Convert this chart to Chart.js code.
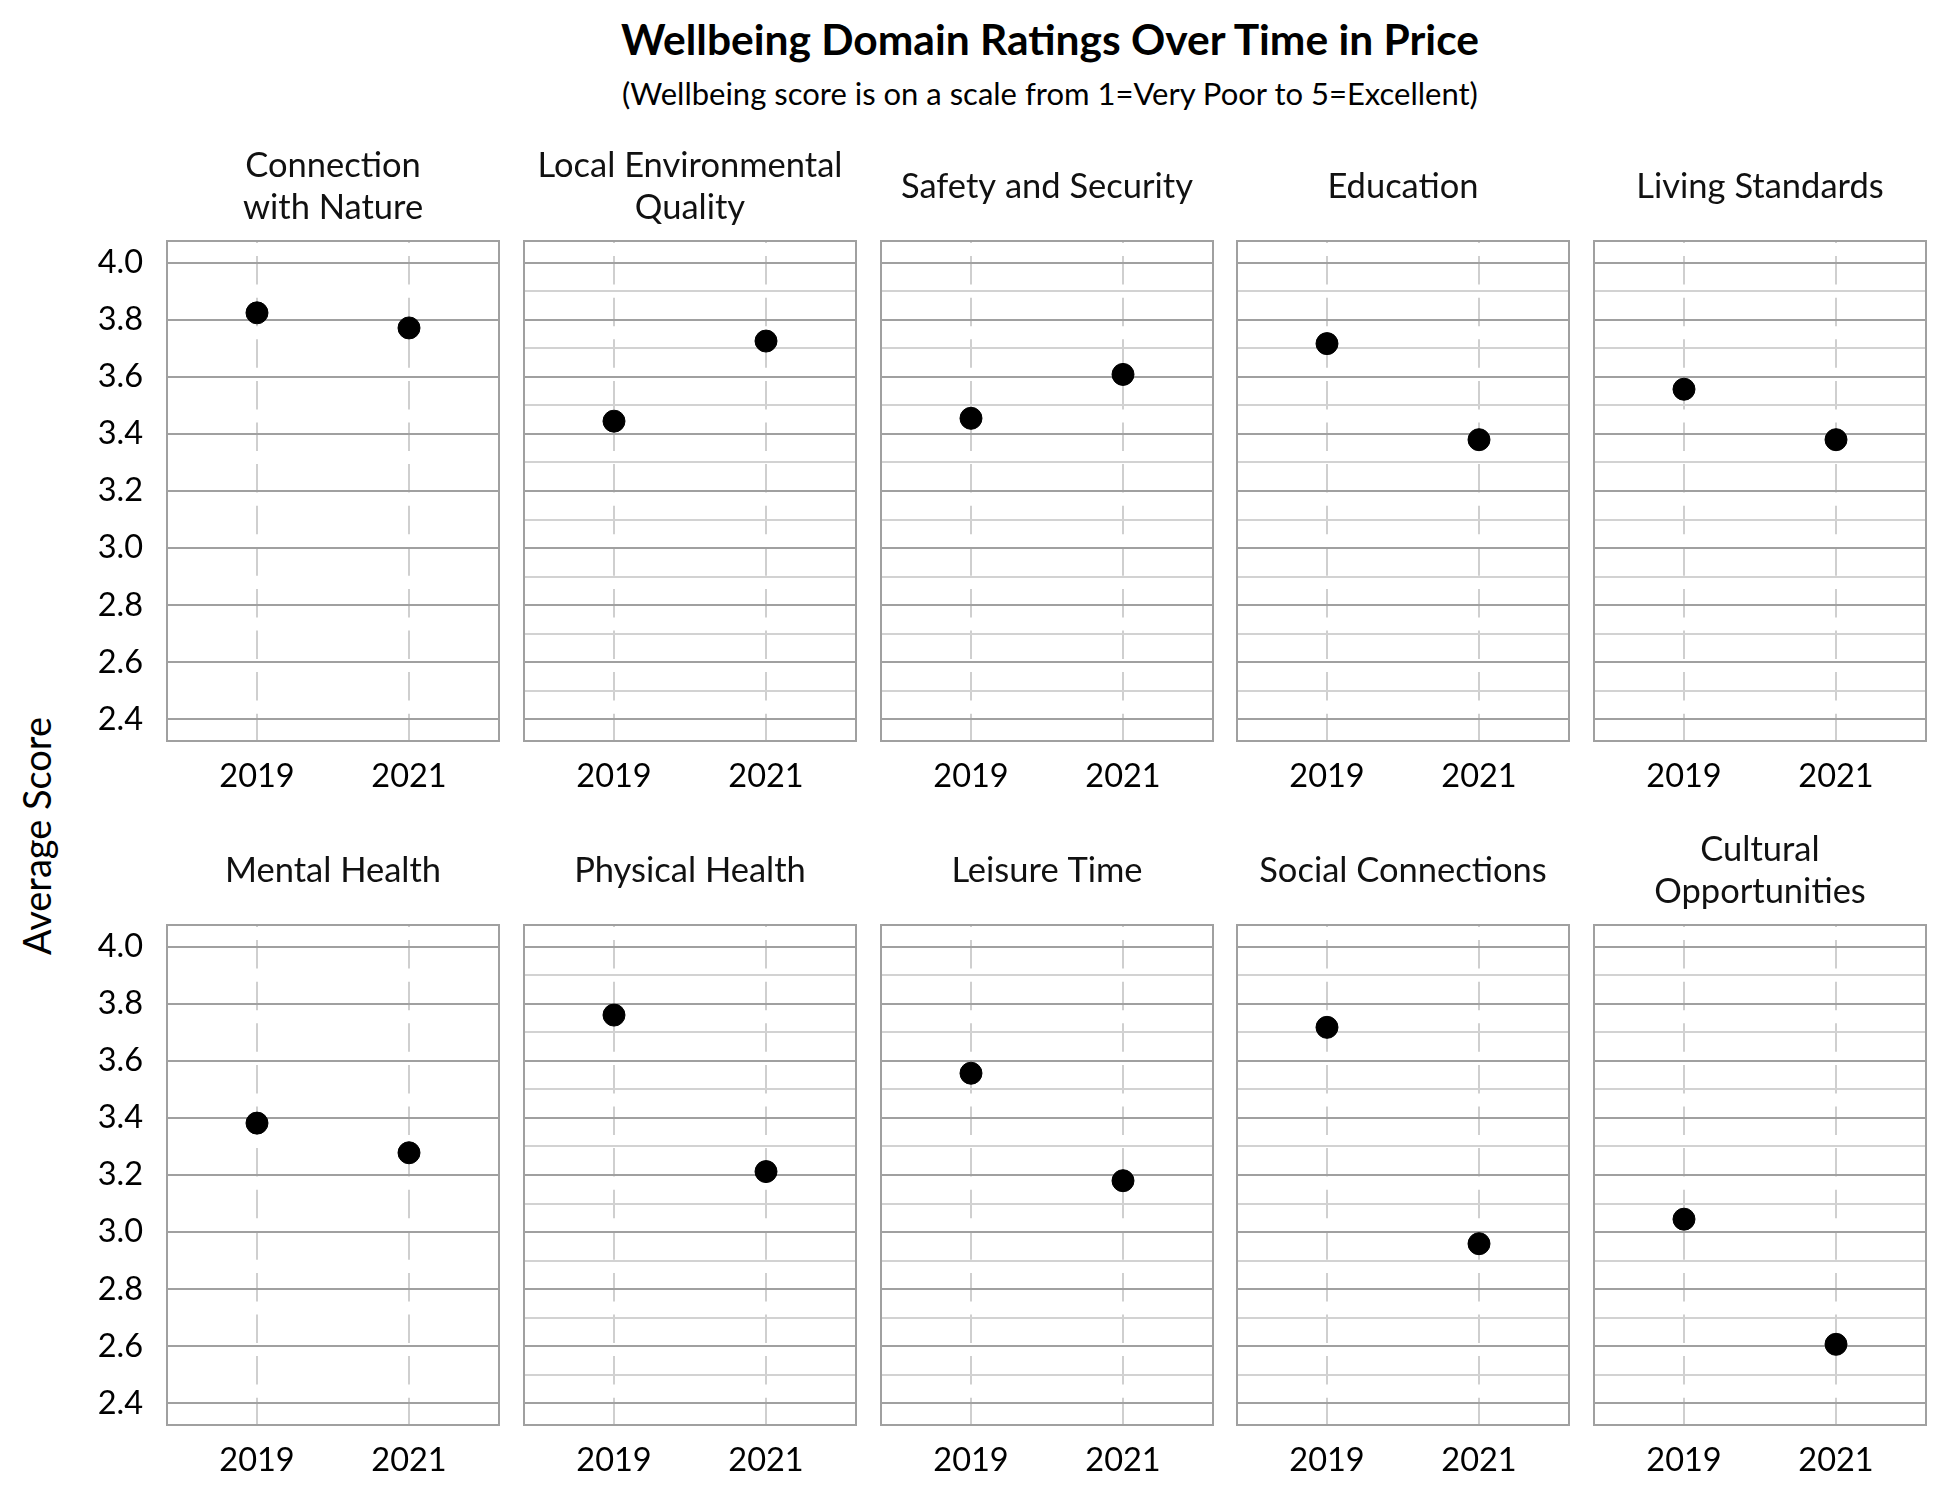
<!DOCTYPE html>
<html>
<head>
<meta charset="utf-8">
<script src="https://cdn.jsdelivr.net/npm/chart.js@4"></script>
<style>
  body { margin: 0; background: #fff; }
  #wrap { position: relative; width: 1950px; height: 1500px; background: #fff; font-family: Lato, "Noto Sans", sans-serif; color: #000; }
  #wrap canvas { position: absolute; }
  .title { position: absolute; left: 0; width: 2100px; height: 50px; line-height: 50px; text-align: center; white-space: nowrap; }
  #mainTitle { top: 14px; font-size: 42.5px; font-weight: bold; }
  #subTitle { top: 68px; font-size: 31px; }
  #yTitle { position: absolute; left: 36px; top: 836px; font-size: 38px; white-space: nowrap;
            transform: translate(-50%, -50%) rotate(-90deg); }
</style>
</head>
<body>
<div id="wrap">
  <div class="title" id="mainTitle">Wellbeing Domain Ratings Over Time in Price</div>
  <div class="title" id="subTitle">(Wellbeing score is on a scale from 1=Very Poor to 5=Excellent)</div>
  <div id="yTitle">Average Score</div>
</div>
<script>
const domains = [
  ["Connection", "with Nature"],
  ["Local Environmental", "Quality"],
  ["Safety and Security"],
  ["Education"],
  ["Living Standards"],
  ["Mental Health"],
  ["Physical Health"],
  ["Leisure Time"],
  ["Social Connections"],
  ["Cultural", "Opportunities"]
];
const years = [2019, 2021];
const score2019 = [3.825, 3.445, 3.455, 3.717, 3.557, 3.382, 3.761, 3.557, 3.718, 3.045];
const score2021 = [3.772, 3.726, 3.609, 3.380, 3.380, 3.278, 3.212, 3.180, 2.959, 2.606];

const yMin = 2.323, yMax = 4.077;
const xMin = 2017.816, xMax = 2022.184;

// panel box positions
const panelW = 332, panelH = 500;
const colLeft = c => 167 + c * 356.75;
const rowTop = r => 241 + r * 684;
const titleH = 120, xAxisH = 70;

// title centre in the block sits 66px below its top
const titleFont = 34.5, titleLine = 41.6;

const boxPlugin = {
  id: "panelBox",
  beforeDatasetsDraw(chart) {
    const a = chart.chartArea, g = chart.ctx;
    g.save();
    g.strokeStyle = "#a0a0a0";
    g.lineWidth = 2;
    g.strokeRect(a.left, a.top, a.right - a.left, a.bottom - a.top);
    g.restore();
  }
};

const wrap = document.getElementById("wrap");

domains.forEach((name, i) => {
  const c = i % 5, r = Math.floor(i / 5);
  // same space both sides so the panel title stays centred over the box
  const yw = c === 0 ? 110 : 4;
  const cv = document.createElement("canvas");
  cv.width = yw + panelW + yw;
  cv.height = titleH + panelH + xAxisH;
  cv.style.left = (colLeft(c) - yw) + "px";
  cv.style.top = (rowTop(r) - titleH) + "px";
  wrap.appendChild(cv);

  const n = name.length;
  const padTop = 66 - n * titleLine / 2;
  const padBottom = titleH - padTop - n * titleLine;

  new Chart(cv.getContext("2d"), {
    type: "scatter",
    data: {
      datasets: [{
        data: years.map((yr, k) => ({ x: yr, y: k === 0 ? score2019[i] : score2021[i] })),
        backgroundColor: "#000",
        borderColor: "#000",
        pointRadius: 11,
        pointHoverRadius: 11
      }]
    },
    options: {
      responsive: false,
      animation: false,
      devicePixelRatio: 1,
      layout: { autoPadding: false, padding: 0 },
      plugins: {
        legend: { display: false },
        tooltip: { enabled: false },
        title: {
          display: true,
          text: name,
          color: "#111",
          font: { family: "Lato", size: titleFont, weight: "normal", lineHeight: titleLine / titleFont },
          padding: { top: padTop, bottom: padBottom }
        }
      },
      scales: {
        x: {
          type: "linear",
          min: xMin,
          max: xMax,
          afterBuildTicks: s => { s.ticks = years.map(v => ({ value: v })); },
          afterFit: s => { s.height = xAxisH; },
          border: { display: false, dash: [28.5, 13.1], dashOffset: 26.5 },
          grid: {
            color: "#cfcfcf",
            lineWidth: 2,
            drawTicks: false
          },
          ticks: {
            color: "#000",
            padding: 16,
            font: { family: "Lato", size: 32.5 },
            callback: v => String(v)
          }
        },
        y: {
          min: yMin,
          max: yMax,
          afterFit: s => { s.width = yw; },
          border: { display: false },
          grid: {
            drawTicks: false,
            color: ctx => (Math.round(ctx.tick.value * 10) % 2 === 0 ? "#a0a0a0" : "#d2d2d2"),
            lineWidth: 2
          },
          ticks: {
            display: c === 0,
            stepSize: 0.1,
            includeBounds: false,
            padding: 24,
            color: "#000",
            font: { family: "Lato", size: 32.5 },
            callback: v => (Math.round(v * 10) % 2 === 0 ? v.toFixed(1) : "")
          }
        },
        // empty right axis, only reserves the same width as the left one
        yRight: {
          position: "right",
          min: yMin,
          max: yMax,
          afterFit: s => { s.width = yw; },
          border: { display: false },
          grid: { display: false, drawTicks: false },
          ticks: { display: false }
        }
      }
    },
    plugins: [boxPlugin]
  });
});
</script>
</body>
</html>
